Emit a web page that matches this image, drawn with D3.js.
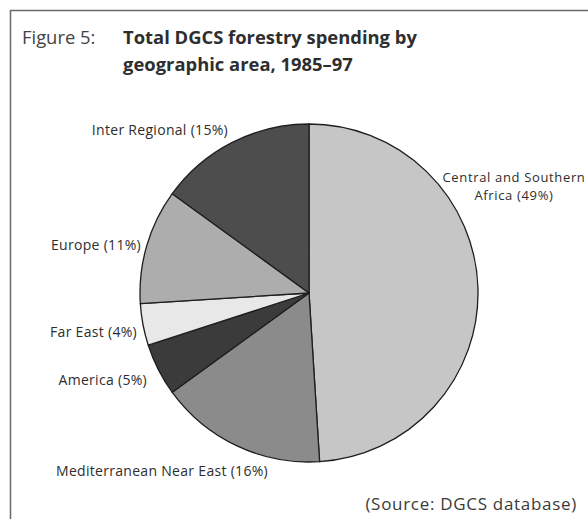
<!DOCTYPE html>
<html>
<head>
<meta charset="utf-8">
<script src="https://cdn.jsdelivr.net/npm/d3@7/dist/d3.min.js"></script>
<style>
  html, body { margin: 0; padding: 0; background: #fff; }
  svg { display: block; }
  text { font-family: "Open Sans", "Noto Sans", sans-serif; fill: #2e2e2e; }
</style>
</head>
<body>
<svg id="chart" width="588" height="519"></svg>
<script>
// DGCS forestry spending share by geographic area, 1985–97 (percent)
const regions = ["Central and Southern Africa", "Mediterranean Near East", "America", "Far East", "Europe", "Inter Regional"];
const shares  = [49, 16, 5, 4, 11, 15];
const fills   = ["#c6c6c6", "#8b8b8b", "#3b3b3b", "#e8e8e8", "#adadad", "#4d4d4d"];
const labelLines = [
  ["Central and Southern", "Africa (49%)"],
  ["Mediterranean Near East (16%)"],
  ["America (5%)"],
  ["Far East (4%)"],
  ["Europe (11%)"],
  ["Inter Regional (15%)"]
];

const svg = d3.select("#chart");
const W = 588, H = 519;

// frame
svg.append("path")
  .attr("d", `M10.5,${H} L10.5,10.5 L${W},10.5`)
  .attr("fill", "none").attr("stroke", "#6a6a6a").attr("stroke-width", 1.5);

// title
const title = svg.append("g").style("font-size", "18.4px");
title.append("text").attr("x", 22).attr("y", 44)
  .style("fill", "#444").text("Figure 5:");
title.append("text").attr("x", 123).attr("y", 44)
  .style("font-weight", "bold").text("Total DGCS forestry spending by");
title.append("text").attr("x", 123).attr("y", 71)
  .style("font-weight", "bold").text("geographic area, 1985–97");

// pie
const cx = 309, cy = 293, r = 169;
const data = regions.map((name, i) => ({ name, value: shares[i], fill: fills[i], lines: labelLines[i] }));
const pie = d3.pie().value(d => d.value).sort(null).startAngle(0).endAngle(2 * Math.PI);
const arc = d3.arc().innerRadius(0).outerRadius(r);
const arcs = pie(data);

const g = svg.append("g").attr("transform", `translate(${cx},${cy})`);
g.selectAll("path.slice").data(arcs).join("path")
  .attr("class", "slice")
  .attr("d", arc)
  .attr("fill", d => d.data.fill)
  .attr("stroke", "#1e1e1e")
  .attr("stroke-width", 1.3)
  .attr("stroke-linejoin", "round");

// labels, placed beside their slices
const labelPos = {
  "Central and Southern Africa": { x: 514, y: 182, anchor: "middle", size: 13, spacing: 0.65 },
  "Mediterranean Near East":     { x: 268, y: 476, anchor: "end" },
  "America":                     { x: 147, y: 385, anchor: "end" },
  "Far East":                    { x: 137, y: 337, anchor: "end" },
  "Europe":                      { x: 141, y: 250, anchor: "end" },
  "Inter Regional":              { x: 228, y: 135, anchor: "end" }
};
const labels = svg.append("g");
arcs.forEach(a => {
  const p = labelPos[a.data.name];
  const t = labels.append("text")
    .attr("x", p.x).attr("y", p.y)
    .attr("text-anchor", p.anchor)
    .style("font-size", (p.size || 14) + "px")
    .style("letter-spacing", (p.spacing || 0.3) + "px");
  a.data.lines.forEach((line, j) => {
    t.append("tspan").attr("x", p.x).attr("dy", j === 0 ? 0 : 18).text(line);
  });
});

// source note
svg.append("text").attr("x", 577).attr("y", 510)
  .attr("text-anchor", "end")
  .style("font-size", "17px").style("letter-spacing", "0.7px").style("fill", "#3a3a3a")
  .text("(Source: DGCS database)");
</script>
</body>
</html>
